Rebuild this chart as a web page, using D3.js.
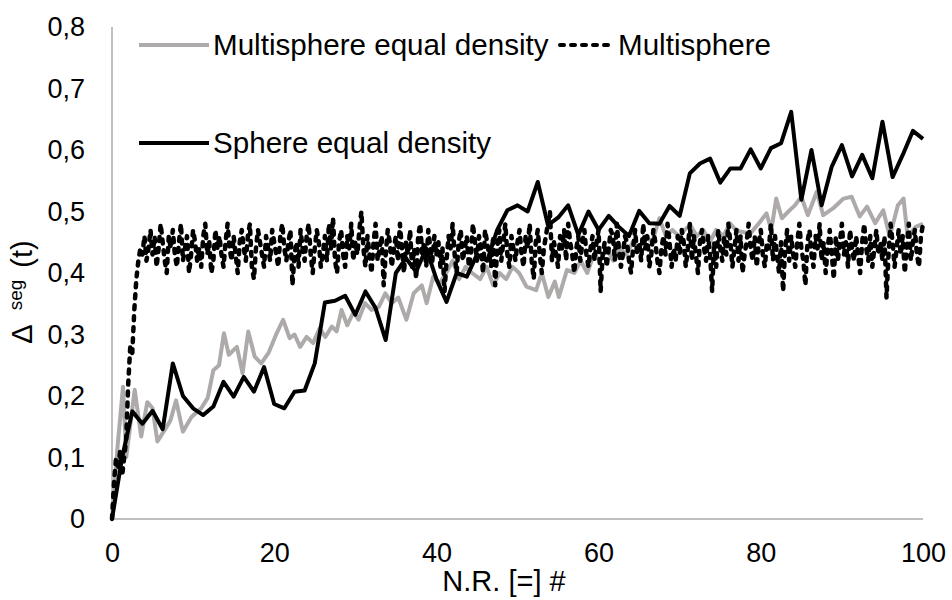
<!DOCTYPE html>
<html><head><meta charset="utf-8">
<script src="https://cdn.jsdelivr.net/npm/d3@7"></script>
<style>
html,body{margin:0;padding:0;background:#fff;}
svg{display:block;font-family:"Liberation Sans",Arial,sans-serif;}
</style></head>
<body><svg id="chart" width="952" height="600"></svg>
<script>
// ---- data ----
const seriesNames = ["Multisphere equal density", "Multisphere", "Sphere equal density"];
const xTicks = [0, 20, 40, 60, 80, 100];
const yTicks = [0, 0.1, 0.2, 0.3, 0.4, 0.5, 0.6, 0.7, 0.8];

// Multisphere equal density (grey) — read positions
const msEqX = [0,0.7,1.36,1.76,2.8,3.6,4.35,5.0,5.6,6.5,7.2,7.9,8.74,9.8,11,11.8,12.5,13.2,13.8,14.4,15.4,16.1,16.8,17.6,18.4,19.3,20.3,21.1,21.9,22.5,23.2,24,24.8,25.6,26.3,27.1,27.7,28.3,29,29.8,30.4,31.2,32,32.9,33.7,34.5,35.3,36.3,37.2,38.2,38.8,39.6,40.4,41.2,42,42.8,43.6,44.4,45.4,46.2,47,47.8,48.6,49.4,50.2,51.1,52.3,53,53.8,54.6,55.1,56.1,57,57.8,58.6,59.4,60.2,61,61.8,62.6,63.4,64.2,65,65.8,66.6,67.5,68.3,69.1,69.9,70.6,71.3,72.1,72.9,73.7,74.5,75.4,76.2,76.9,77.6,78.7,79.9,80.7,81.3,81.9,82.6,83.4,84.2,85,85.8,86.9,87.7,88.9,90.2,91.2,92.2,93.1,94.1,95.1,95.9,96.9,97.6,98.1,99.1,100];
const msEqY = [0,0.12,0.215,0.101,0.21,0.134,0.19,0.18,0.126,0.145,0.16,0.193,0.142,0.166,0.18,0.197,0.242,0.25,0.302,0.267,0.28,0.237,0.305,0.264,0.253,0.27,0.302,0.324,0.294,0.30,0.28,0.296,0.286,0.31,0.296,0.313,0.305,0.34,0.315,0.337,0.324,0.351,0.34,0.345,0.367,0.351,0.36,0.324,0.367,0.38,0.351,0.394,0.383,0.40,0.42,0.39,0.41,0.40,0.39,0.41,0.38,0.40,0.39,0.41,0.40,0.378,0.372,0.40,0.361,0.386,0.361,0.405,0.40,0.42,0.40,0.43,0.42,0.44,0.42,0.44,0.43,0.45,0.44,0.46,0.45,0.489,0.46,0.47,0.46,0.47,0.478,0.46,0.47,0.45,0.47,0.46,0.481,0.47,0.467,0.464,0.483,0.497,0.47,0.521,0.489,0.5,0.51,0.524,0.494,0.532,0.494,0.505,0.521,0.524,0.492,0.508,0.481,0.502,0.459,0.51,0.521,0.459,0.475,0.48];

// Multisphere (dashed) — one value every 0.25 on the x axis
const msStep = 0.25;
const msY = [
0,0.06,0.10,0.08,0.11,0.07,0.10,0.13,0.22,0.28,0.27,0.34,0.39,0.42,0.44,0.43,0.46,0.42,0.44,0.47,
0.43,0.46,0.41,0.44,0.48,0.45,0.42,0.40,0.46,0.44,0.47,0.43,0.41,0.45,0.48,0.42,0.44,0.46,0.40,0.43,
0.47,0.45,0.42,0.44,0.41,0.46,0.48,0.43,0.45,0.40,0.42,0.47,0.44,0.46,0.43,0.41,0.45,0.48,0.44,0.42,
0.46,0.43,0.40,0.45,0.47,0.44,0.42,0.46,0.48,0.41,0.39,0.44,0.47,0.45,0.43,0.41,0.46,0.44,0.42,0.47,
0.45,0.43,0.41,0.46,0.48,0.44,0.42,0.45,0.47,0.38,0.43,0.45,0.41,0.47,0.44,0.42,0.46,0.48,0.43,0.40,
0.44,0.47,0.45,0.41,0.43,0.46,0.42,0.48,0.44,0.49,0.42,0.40,0.45,0.47,0.43,0.41,0.46,0.44,0.48,0.42,
0.45,0.43,0.47,0.50,0.44,0.41,0.46,0.43,0.40,0.45,0.48,0.42,0.44,0.46,0.38,0.43,0.47,0.45,0.41,0.44,
0.46,0.42,0.48,0.44,0.40,0.45,0.43,0.47,0.41,0.44,0.39,0.46,0.48,0.43,0.45,0.41,0.47,0.44,0.42,0.46,
0.43,0.45,0.41,0.44,0.37,0.42,0.46,0.44,0.48,0.43,0.40,0.45,0.47,0.42,0.44,0.46,0.41,0.43,0.48,0.45,
0.42,0.46,0.44,0.40,0.47,0.45,0.43,0.41,0.46,0.38,0.44,0.47,0.42,0.45,0.48,0.43,0.41,0.46,0.44,0.42,
0.45,0.47,0.43,0.41,0.46,0.44,0.48,0.42,0.39,0.45,0.47,0.43,0.40,0.44,0.46,0.48,0.50,0.42,0.45,0.43,
0.41,0.46,0.44,0.47,0.42,0.48,0.45,0.43,0.40,0.44,0.46,0.42,0.45,0.47,0.43,0.41,0.44,0.46,0.42,0.45,
0.47,0.37,0.43,0.45,0.41,0.44,0.47,0.46,0.42,0.48,0.44,0.41,0.43,0.46,0.45,0.42,0.40,0.44,0.47,0.43,
0.45,0.42,0.48,0.44,0.46,0.41,0.43,0.47,0.45,0.42,0.40,0.44,0.46,0.43,0.48,0.45,0.41,0.44,0.42,0.46,
0.43,0.47,0.45,0.41,0.44,0.48,0.42,0.46,0.43,0.40,0.45,0.47,0.44,0.42,0.46,0.43,0.37,0.45,0.41,0.47,
0.44,0.42,0.46,0.43,0.48,0.45,0.41,0.44,0.47,0.42,0.46,0.40,0.43,0.45,0.48,0.44,0.42,0.46,0.41,0.45,
0.47,0.43,0.41,0.45,0.44,0.48,0.42,0.46,0.43,0.40,0.45,0.37,0.44,0.47,0.42,0.46,0.43,0.41,0.45,0.48,
0.44,0.42,0.38,0.45,0.47,0.43,0.41,0.46,0.44,0.48,0.42,0.45,0.40,0.44,0.47,0.43,0.39,0.46,0.42,0.45,
0.48,0.43,0.45,0.41,0.47,0.44,0.42,0.46,0.43,0.40,0.45,0.48,0.44,0.42,0.46,0.41,0.44,0.47,0.43,0.45,
0.42,0.46,0.36,0.43,0.48,0.45,0.41,0.44,0.47,0.43,0.46,0.40,0.44,0.48,0.42,0.45,0.47,0.43,0.41,0.46,0.48
];

// Sphere equal density (solid black) — one value every 1.25 on the x axis
const spStep = 1.25;
const spY = [0,0.10,0.175,0.155,0.176,0.146,0.253,0.20,0.18,0.169,0.183,0.223,0.199,0.231,0.207,0.247,0.187,0.18,0.207,0.209,
0.253,0.352,0.355,0.363,0.332,0.37,0.343,0.291,0.40,0.424,0.402,0.44,0.39,0.353,0.40,0.394,0.43,0.42,0.47,0.502,
0.51,0.50,0.548,0.478,0.49,0.51,0.462,0.50,0.47,0.493,0.475,0.46,0.501,0.481,0.48,0.509,0.493,0.562,0.578,0.586,
0.547,0.57,0.57,0.601,0.57,0.603,0.611,0.662,0.519,0.60,0.51,0.573,0.608,0.557,0.592,0.554,0.646,0.556,0.592,0.631,0.618];

// ---- chart ----
const svg = d3.select("#chart");
const x = d3.scaleLinear().domain([0, 100]).range([112, 923]);
const y = d3.scaleLinear().domain([0, 0.8]).range([519, 27]);
const axisColor = "#bfbfbf";

svg.append("line").attr("x1", x(0)).attr("x2", x(0)).attr("y1", y(0)).attr("y2", y(0.8))
  .attr("stroke", axisColor).attr("stroke-width", 2);
svg.append("line").attr("x1", x(0)).attr("x2", x(100)).attr("y1", y(0)).attr("y2", y(0))
  .attr("stroke", axisColor).attr("stroke-width", 2);

const yAxis = d3.axisLeft(y).tickValues(yTicks).tickSize(0).tickPadding(27)
  .tickFormat(d => d === 0 ? "0" : d3.format(".1f")(d).replace(".", ","));
const gy = svg.append("g").attr("transform", `translate(${x(0)},0)`).call(yAxis);
gy.select(".domain").remove();
gy.selectAll("text").attr("font-size", 27).attr("fill", "#000").attr("font-family", "Liberation Sans, Arial, sans-serif");

const xAxis = d3.axisBottom(x).tickValues(xTicks).tickSize(0).tickPadding(24).tickFormat(d3.format("d"));
const gx = svg.append("g").attr("transform", `translate(0,${y(0)})`).call(xAxis);
gx.select(".domain").remove();
gx.selectAll("text").attr("font-size", 27).attr("fill", "#000").attr("font-family", "Liberation Sans, Arial, sans-serif");

const grey = "#aeaaaa";
const lineGen = d3.line().x(d => x(d[0])).y(d => y(d[1]));
const greyData = msEqX.map((v, i) => [v, msEqY[i]]);
const msData = msY.map((v, i) => [i * msStep, v]);
const spData = spY.map((v, i) => [i * spStep, v]);

svg.append("path").datum(greyData).attr("d", lineGen).attr("fill", "none")
  .attr("stroke", grey).attr("stroke-width", 4).attr("stroke-linejoin", "round");
svg.append("path").datum(msData).attr("d", lineGen).attr("fill", "none")
  .attr("stroke", "#000").attr("stroke-width", 4.5).attr("stroke-dasharray", "4,7")
  .attr("stroke-linecap", "round").attr("stroke-linejoin", "round");
svg.append("path").datum(spData).attr("d", lineGen).attr("fill", "none")
  .attr("stroke", "#000").attr("stroke-width", 4).attr("stroke-linejoin", "round");

const leg = svg.append("g").attr("font-size", 29.6).attr("fill", "#000");
const legendItems = [
  {name: seriesNames[0], x0: 139, y0: 45, color: grey, dash: null, cap: "butt", len: 70},
  {name: seriesNames[1], x0: 560, y0: 45, color: "#000", dash: "4,7", cap: "round", len: 54},
  {name: seriesNames[2], x0: 139, y0: 143, color: "#000", dash: null, cap: "butt", len: 70}
];
legendItems.forEach(it => {
  leg.append("line").attr("x1", it.x0).attr("x2", it.x0 + it.len).attr("y1", it.y0).attr("y2", it.y0)
    .attr("stroke", it.color).attr("stroke-width", 4).attr("stroke-dasharray", it.dash)
    .attr("stroke-linecap", it.cap);
  leg.append("text").attr("x", it.x0 + it.len + 4).attr("y", it.y0).attr("dy", "0.35em").text(it.name);
});

svg.append("text").attr("x", 504).attr("y", 591).attr("text-anchor", "middle")
  .attr("font-size", 29).text("N.R. [=] #");
const yt = svg.append("text").attr("transform", "translate(32,292) rotate(-90)").attr("text-anchor", "middle")
  .attr("font-size", 29);
yt.append("tspan").text("Δ");
yt.append("tspan").attr("font-size", 19).attr("dx", 14).attr("dy", -10).text("seg");
yt.append("tspan").attr("dx", 12).attr("dy", 10).text("(t)");
</script></body></html>
